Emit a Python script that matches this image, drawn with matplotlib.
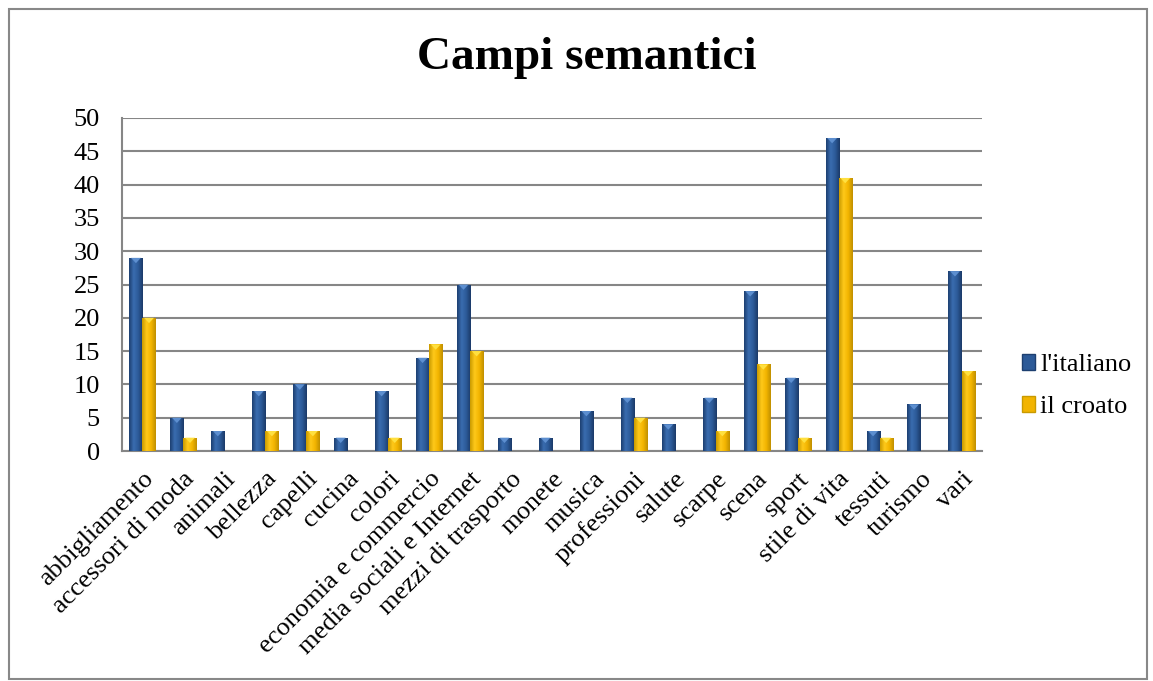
import numpy as np
import matplotlib.pyplot as plt
from matplotlib.patches import Patch, Polygon, Rectangle
from matplotlib.colors import LinearSegmentedColormap

plt.rcParams['font.family'] = ['Liberation Serif', 'DejaVu Serif']

# data
categories = ['abbigliamento', 'accessori di moda', 'animali', 'bellezza', 'capelli',
              'cucina', 'colori', 'economia e commercio', 'media sociali e Internet',
              'mezzi di trasporto', 'monete', 'musica', 'professioni', 'salute',
              'scarpe', 'scena', 'sport', 'stile di vita', 'tessuti', 'turismo', 'vari']
italiano = [29, 5, 3, 9, 10, 2, 9, 14, 25, 2, 2, 6, 8, 4, 8, 24, 11, 47, 3, 7, 27]
croato = [20, 2, 0, 3, 3, 0, 2, 16, 15, 0, 0, 0, 5, 0, 3, 13, 2, 41, 2, 0, 12]
series_names = ["l'italiano", 'il croato']
yticks = list(range(0, 55, 5))

blue_cm = LinearSegmentedColormap.from_list('b', ['#1d3f70', '#3a6db0', '#2c5a98', '#1b3a68'])
gold_cm = LinearSegmentedColormap.from_list('g', ['#c99a00', '#ffc91a', '#f2b400', '#c08f00'])
blue_tip = '#5d8fd0'
gold_tip = '#ffe040'

fig = plt.figure(figsize=(11.53, 6.81), dpi=100)
ax = fig.add_axes([122/1153, 1-451/681, 860/1153, 333/681])

x = np.arange(len(categories))
w = 0.32
grad = np.linspace(0, 1, 64).reshape(1, -1)


def fancy_bars(xs, vals, cmap, tip):
    bars = ax.bar(xs, vals, w, color=cmap(0.5), edgecolor='none', zorder=3)
    for b, v in zip(bars, vals):
        if v <= 0:
            continue
        x0, x1 = b.get_x(), b.get_x() + b.get_width()
        im = ax.imshow(grad, cmap=cmap, aspect='auto', extent=(x0, x1, 0, v),
                       zorder=3.5, interpolation='bilinear')
        im.set_clip_path(b)
        xc = (x0 + x1) / 2
        tri = Polygon([(x0 + 0.04, v), (x1 - 0.04, v), (xc, v - 0.8)], closed=True,
                      facecolor=tip, edgecolor='none', zorder=4)
        ax.add_patch(tri)
    return bars


fancy_bars(x - 0.16, italiano, blue_cm, blue_tip)
fancy_bars(x + 0.16, croato, gold_cm, gold_tip)

ax.set_xlim(-0.5, len(categories) - 0.5)
ax.set_ylim(0, 50)
ax.set_yticks(yticks)
ax.yaxis.grid(True, color='#868686', linewidth=1.5, zorder=0)
ax.set_axisbelow(True)
for s in ['top', 'right']:
    ax.spines[s].set_visible(False)
for s in ['left', 'bottom']:
    ax.spines[s].set_color('#868686')
    ax.spines[s].set_linewidth(1.5)
ax.tick_params(axis='y', length=0, pad=16, labelsize=19)
ax.tick_params(axis='x', length=0, pad=12, labelsize=19)
ax.set_xticks(x)
ax.set_xticklabels(categories, rotation=45, ha='right', rotation_mode='anchor')

fig.text(587/1153, 1-58/681, 'Campi semantici', ha='center', va='center',
         fontsize=34, fontweight='bold')

handles = [Patch(facecolor='#2c5a98', edgecolor='#1d3f70'),
           Patch(facecolor='#f2b400', edgecolor='#c99a00')]
fig.legend(handles, series_names, loc='center left', bbox_to_anchor=(1022/1153, 1-386/681),
           frameon=False, fontsize=19, handlelength=0.5, handleheight=0.55,
           handletextpad=0.2, labelspacing=0.75, borderpad=0, borderaxespad=0)

fig.patches.append(Rectangle((8.5/1153, 2/681), 1138/1153, 670/681, transform=fig.transFigure,
                             fill=False, edgecolor='#888888', linewidth=1.5))

fig.savefig('out.png', dpi=100)
